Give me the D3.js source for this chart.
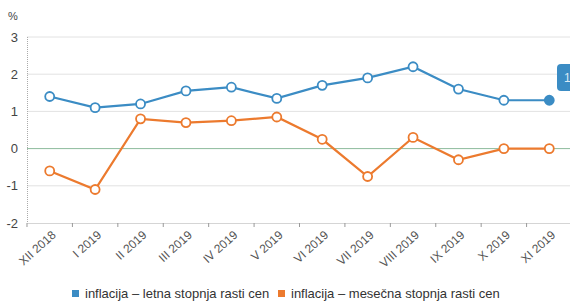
<!DOCTYPE html>
<html>
<head>
<meta charset="utf-8">
<script src="https://cdn.jsdelivr.net/npm/d3@7"></script>
<style>
  body { margin: 0; background: #fff; }
  text { font-family: "Liberation Sans", Arial, sans-serif; }
</style>
</head>
<body>
<div id="chart"></div>
<script>
// data
var months = ["XII 2018", "I 2019", "II 2019", "III 2019", "IV 2019", "V 2019",
              "VI 2019", "VII 2019", "VIII 2019", "IX 2019", "X 2019", "XI 2019"];
var letna   = [1.4, 1.1, 1.2, 1.55, 1.65, 1.35, 1.7, 1.9, 2.2, 1.6, 1.3, 1.3];
var mesecna = [-0.6, -1.1, 0.8, 0.7, 0.75, 0.85, 0.25, -0.75, 0.3, -0.3, 0.0, 0.0];
var yTicks  = [-2, -1, 0, 1, 2, 3];
var seriesNames = ["inflacija \u2013 letna stopnja rasti cen", "inflacija \u2013 mese\u010dna stopnja rasti cen"];
var colors = ["#3b8cc4", "#ec7a2e"];

var W = 570, H = 306;
var margin = {top: 37, right: -2, bottom: 83, left: 27};

var svg = d3.select("#chart").append("svg")
    .attr("width", W).attr("height", H);

var x = d3.scaleBand()
    .domain(months)
    .range([margin.left, W - margin.right]);

var y = d3.scaleLinear()
    .domain([-2, 3])
    .range([H - margin.bottom, margin.top]);

// grid lines
svg.append("g").selectAll("line")
  .data(yTicks.filter(function(d){ return d != -2; }))
  .enter().append("line")
    .attr("x1", margin.left).attr("x2", W)
    .attr("y1", function(d){ return y(d); })
    .attr("y2", function(d){ return y(d); })
    .attr("stroke", function(d){ return d == 0 ? "#8dbb9c" : "#e2e2e2"; })
    .attr("stroke-width", 1);

// y axis line (dotted)
svg.append("line")
    .attr("x1", margin.left + 0.5).attr("x2", margin.left + 0.5)
    .attr("y1", y(3)).attr("y2", y(-2))
    .attr("stroke", "#aaa")
    .attr("stroke-dasharray", "1,1");

// y tick labels
svg.append("g").selectAll("text")
  .data(yTicks)
  .enter().append("text")
    .attr("x", 18)
    .attr("y", function(d){ return y(d) + 4.5; })
    .attr("text-anchor", "end")
    .attr("font-size", 13)
    .attr("fill", "#444")
    .text(function(d){ return d; });

svg.append("text")
    .attr("x", 8).attr("y", 20)
    .attr("font-size", 11)
    .attr("fill", "#444")
    .text("%");

// x axis
var xAxis = svg.append("g")
    .attr("transform", "translate(0," + y(-2) + ")")
    .call(d3.axisBottom(x).tickSize(4).tickSizeOuter(0).tickFormat(""));
xAxis.select(".domain").attr("stroke", "#aaa").attr("stroke-dasharray", "1,1");
xAxis.selectAll(".tick line")
    .attr("stroke", "#999")
    .attr("transform", "translate(" + (-x.bandwidth() / 2) + ",0)");

svg.append("g").selectAll("text")
  .data(months)
  .enter().append("text")
    .attr("transform", function(d){
      return "translate(" + (x(d) + x.bandwidth() / 2 + 7) + "," + (y(-2) + 13) + ") rotate(-42)";
    })
    .attr("text-anchor", "end")
    .attr("font-size", 12)
    .attr("fill", "#555")
    .text(function(d){ return d; });

// lines and points
var cx = function(d, i){ return x(months[i]) + x.bandwidth() / 2; };
[letna, mesecna].forEach(function(series, k) {
  svg.append("path")
      .datum(series)
      .attr("d", d3.line().x(cx).y(function(d){ return y(d); }))
      .attr("fill", "none")
      .attr("stroke", colors[k])
      .attr("stroke-width", 2.2);
  svg.append("g").selectAll("circle")
    .data(series)
    .enter().append("circle")
      .attr("cx", cx)
      .attr("cy", function(d){ return y(d); })
      .attr("r", 4.5)
      .attr("fill", function(d, i){ return (k == 0 && i == series.length - 1) ? colors[k] : "#fff"; })
      .attr("stroke", colors[k])
      .attr("stroke-width", 1.8);
});

// tooltip stub cut off at right edge
var tip = svg.append("g");
tip.append("rect")
    .attr("x", 557).attr("y", 64)
    .attr("width", 24).attr("height", 27)
    .attr("rx", 4)
    .attr("fill", "#3b8cc4");
tip.append("text")
    .attr("x", 564).attr("y", 82)
    .attr("font-size", 12)
    .attr("fill", "#dbeaf5")
    .text("1");

// legend
var legend = svg.append("g");
var lx = [72, 278];
seriesNames.forEach(function(name, k) {
  legend.append("rect")
      .attr("x", lx[k]).attr("y", 290)
      .attr("width", 7).attr("height", 7)
      .attr("fill", colors[k]);
  legend.append("text")
      .attr("x", lx[k] + 13).attr("y", 298)
      .attr("font-size", 13)
      .attr("fill", "#333")
      .text(name);
});
</script>
</body>
</html>
